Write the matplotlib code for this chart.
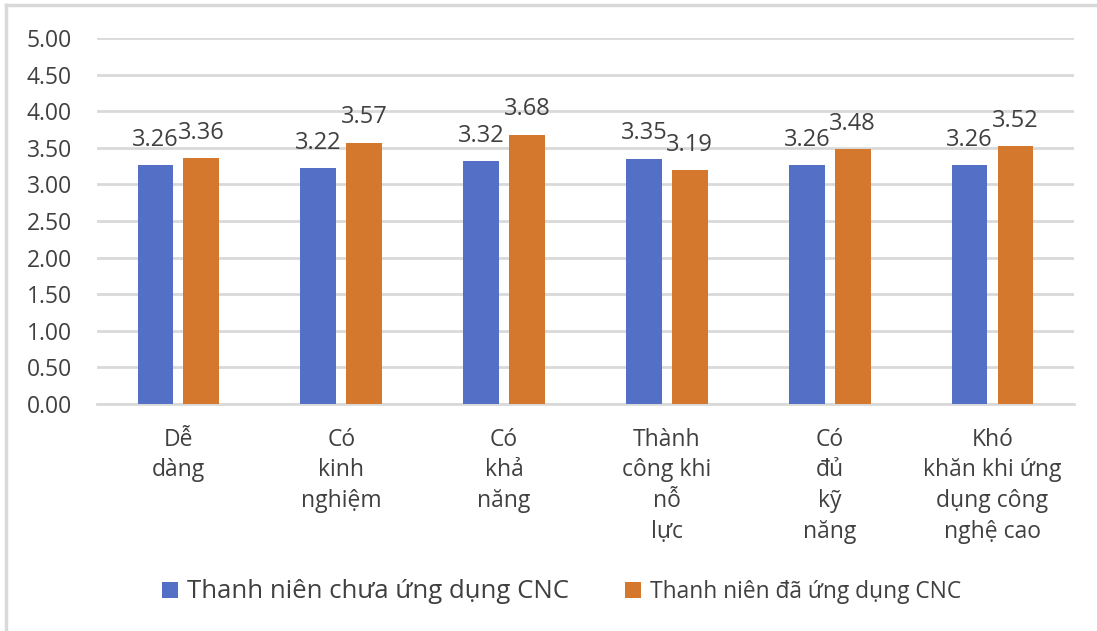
import matplotlib
matplotlib.use("Agg")
import matplotlib.pyplot as plt
from matplotlib.patches import Patch
from matplotlib.lines import Line2D
import numpy as np

categories = ["Dễ\ndàng", "Có\nkinh\nnghiệm", "Có\nkhả\nnăng",
              "Thành\ncông khi\nnỗ\nlực", "Có\nđủ\nkỹ\nnăng",
              "Khó\nkhăn khi ứng\ndụng công\nnghệ cao"]
chua_ung_dung = [3.26, 3.22, 3.32, 3.35, 3.26, 3.26]
da_ung_dung = [3.36, 3.57, 3.68, 3.19, 3.48, 3.52]
series_names = ["Thanh niên chưa ứng dụng CNC", "Thanh niên đã ứng dụng CNC"]
yticks = [0.0, 0.5, 1.0, 1.5, 2.0, 2.5, 3.0, 3.5, 4.0, 4.5, 5.0]

BLUE = "#5470C6"
ORANGE = "#D4782E"
TEXT = "#404040"
GRID = "#D9D9D9"

plt.rcParams["font.family"] = ["Open Sans", "DejaVu Sans"]

fig = plt.figure(figsize=(10.97, 6.31), dpi=100)
ax = fig.add_axes([0.0884, 0.3597, 0.8906, 0.5801])

x = np.arange(len(categories))
w = 0.22
off = 0.141
b1 = ax.bar(x - off, chua_ung_dung, w, color=BLUE, zorder=3)
b2 = ax.bar(x + off, da_ung_dung, w, color=ORANGE, zorder=3)

for bars, vals in ((b1, chua_ung_dung), (b2, da_ung_dung)):
    for r, v in zip(bars, vals):
        ax.annotate(f"{v:.2f}", (r.get_x() + r.get_width() / 2, v),
                    xytext=(0, 14), textcoords="offset points",
                    ha="center", va="baseline", fontsize=17, color=TEXT)

ax.set_xlim(-0.5, len(categories) - 0.5)
ax.set_ylim(0, 5)
ax.set_yticks(yticks)
ax.set_yticklabels([f"{t:.2f}" for t in yticks], fontsize=16.5, color=TEXT)
ax.set_xticks(x)
ax.set_xticklabels(categories, fontsize=16.5, color=TEXT, linespacing=1.38, va="top")
ax.tick_params(axis="y", length=0, pad=18)
ax.tick_params(axis="x", length=0, pad=17)
ax.grid(axis="y", color=GRID, linewidth=2, zorder=0)
for s in ("top", "right", "left"):
    ax.spines[s].set_visible(False)
ax.spines["bottom"].set_color(GRID)
ax.spines["bottom"].set_linewidth(2)

handles = [Patch(facecolor=BLUE), Patch(facecolor=ORANGE)]
leg = fig.legend(handles, series_names, loc="center", bbox_to_anchor=(0.512, 0.062),
                 ncol=2, frameon=False, fontsize=16.4, handlelength=0.7, handleheight=0.7,
                 handletextpad=0.4, columnspacing=2.43)
leg.get_texts()[0].set_fontsize(18.5)
for t in leg.get_texts():
    t.set_color(TEXT)

# light frame on the left and top edges
fig.add_artist(Line2D([0.0055, 0.0055], [0.0, 0.992], transform=fig.transFigure,
                      color=GRID, linewidth=2.5))
fig.add_artist(Line2D([0.0055, 1.0], [0.992, 0.992], transform=fig.transFigure,
                      color=GRID, linewidth=2.5))

fig.savefig("out.png", dpi=100)
